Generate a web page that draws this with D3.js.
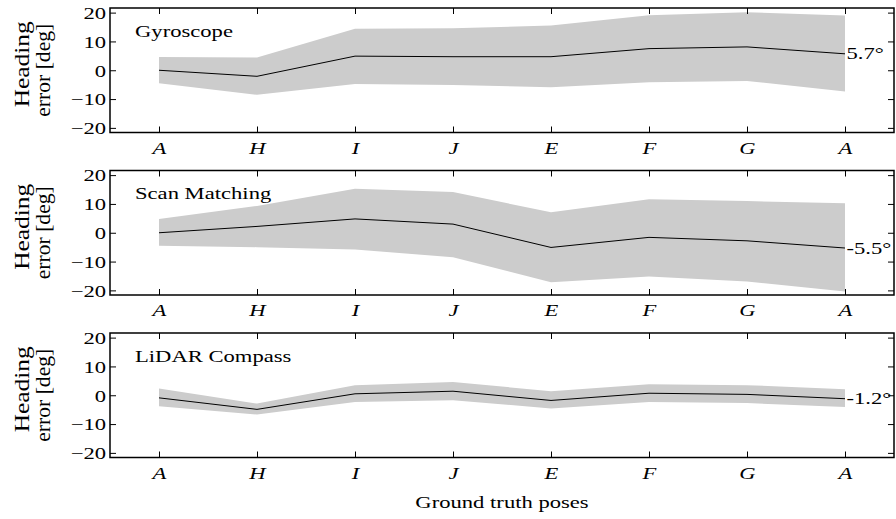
<!DOCTYPE html>
<html>
<head>
<meta charset="utf-8">
<script src="https://cdn.jsdelivr.net/npm/d3@7"></script>
</head>
<body style="margin:0; background:#fff">
<script>
var poses = ['A', 'H', 'I', 'J', 'E', 'F', 'G', 'A'];
var yTicks = [-20, -10, 0, 10, 20];

var gyroMean  = [0, -2.1, 4.9, 4.7, 4.7, 7.5, 8.1, 5.7];
var gyroUpper = [4.6, 4.4, 14.4, 14.6, 15.5, 19.1, 20.1, 19.0];
var gyroLower = [-4.5, -8.5, -4.8, -5.1, -5.9, -4.2, -3.7, -7.4];

var scanMean  = [0, 2.2, 4.8, 3.0, -5.1, -1.6, -2.8, -5.3];
var scanUpper = [4.8, 9.3, 15.3, 14.1, 7.1, 11.6, 11.0, 10.2];
var scanLower = [-4.5, -5.0, -5.8, -8.5, -17.2, -15.2, -16.9, -20.4];

var lidarMean  = [-0.9, -4.9, 0.5, 1.4, -1.8, 0.7, 0.3, -1.2];
var lidarUpper = [2.3, -2.9, 3.5, 4.6, 1.4, 3.8, 3.5, 2.1];
var lidarLower = [-3.8, -6.7, -2.3, -1.7, -4.6, -2.3, -2.7, -4.1];

var panelNames = ['Gyroscope', 'Scan Matching', 'LiDAR Compass'];
var finalLabels = ['5.7°', '-5.5°', '-1.2°'];

var panels = [
  {name: panelNames[0], mean: gyroMean, upper: gyroUpper, lower: gyroLower, end: finalLabels[0]},
  {name: panelNames[1], mean: scanMean, upper: scanUpper, lower: scanLower, end: finalLabels[1]},
  {name: panelNames[2], mean: lidarMean, upper: lidarUpper, lower: lidarLower, end: finalLabels[2]}
];

var width = 896, height = 519;
var left = 110, right = 894;
var panelTops = [8, 170.5, 333], panelH = 124.5;
var fontSize = '17px', stretch = 1.33;   // the original figure is stretched sideways

function serif(sel, size) {
  return sel.style('font-family', '"Liberation Serif"')
    .style('font-size', size || fontSize)
    .style('fill', '#000');
}

// horizontally stretched text, anchored at (x, y)
function label(parent, x, y, txt, anchor) {
  return serif(parent.append('text'))
    .attr('transform', 'translate(' + x + ',' + y + ') scale(' + stretch + ',1)')
    .style('text-anchor', anchor || 'start')
    .text(txt);
}

var svg = d3.select('body').append('svg')
    .attr('width', width)
    .attr('height', height)
    .style('font-family', '"Liberation Serif"');

var xScale = d3.scaleLinear().domain([-0.5, 7.5]).range([left, right]);

panels.forEach(function(p, k) {
  var top = panelTops[k];
  var yScale = d3.scaleLinear().domain([-21.6, 21.6]).range([top + panelH, top]);
  var g = svg.append('g');
  var idx = d3.range(poses.length);

  var area = d3.area()
      .x(function(i) { return xScale(i); })
      .y0(function(i) { return yScale(p.lower[i]); })
      .y1(function(i) { return yScale(p.upper[i]); });

  g.append('path')
      .datum(idx)
      .attr('d', area)
      .style('fill', '#cccccc')
      .style('stroke', 'none');

  var line = d3.line()
      .x(function(i) { return xScale(i); })
      .y(function(i) { return yScale(p.mean[i]); });

  g.append('path')
      .datum(idx)
      .attr('d', line)
      .style('fill', 'none')
      .style('stroke', '#000')
      .style('stroke-width', 1);

  // ticks on all four sides, pointing in
  var yAxisL = d3.axisLeft(yScale).tickValues(yTicks).tickSizeInner(-6).tickSizeOuter(0)
      .tickFormat(function(d) { return d < 0 ? '\u2212' + Math.abs(d) : d; });
  var yAxisR = d3.axisRight(yScale).tickValues(yTicks).tickSizeInner(-6).tickSizeOuter(0).tickFormat('');
  var xAxisB = d3.axisBottom(xScale).tickValues(idx).tickSizeInner(-6).tickSizeOuter(0)
      .tickFormat(function(i) { return poses[i]; });
  var xAxisT = d3.axisTop(xScale).tickValues(idx).tickSizeInner(-6).tickSizeOuter(0).tickFormat('');

  var gL = g.append('g').attr('transform', 'translate(' + left + ',0)').call(yAxisL);
  var gR = g.append('g').attr('transform', 'translate(' + right + ',0)').call(yAxisR);
  var gB = g.append('g').attr('transform', 'translate(0,' + (top + panelH) + ')').call(xAxisB);
  var gT = g.append('g').attr('transform', 'translate(0,' + top + ')').call(xAxisT);

  [gL, gR, gB, gT].forEach(function(a) {
    a.select('.domain').remove();
    a.selectAll('line').style('stroke', '#000').style('stroke-width', 1);
  });

  serif(gL.selectAll('text'))
      .attr('x', null).attr('dy', null)
      .attr('transform', 'translate(-4,5.8) scale(' + stretch + ',1)')
      .style('text-anchor', 'end');

  serif(gB.selectAll('text'))
      .attr('y', null).attr('dy', null)
      .attr('transform', 'translate(0,21) scale(' + stretch + ',1)')
      .style('font-style', 'italic')
      .style('text-anchor', 'middle');

  g.append('rect')
      .attr('x', left)
      .attr('y', top)
      .attr('width', right - left)
      .attr('height', panelH)
      .style('fill', 'none')
      .style('stroke', '#000')
      .style('stroke-width', 1.5);

  label(g, left + 25, top + 28.5, p.name);

  var last = poses.length - 1;
  label(g, xScale(last) + 1.5, yScale(p.mean[last]) + 5.5, p.end);

  // two-line rotated y label
  var cy = top + panelH / 2;
  var ylines = [
    {txt: 'Heading', x: 28.5, dy: -6, len: 86},
    {txt: 'error [deg]', x: 50, dy: 0, len: 93}
  ];
  ylines.forEach(function(l) {
    serif(g.append('text'), '22px')
        .attr('transform', 'translate(' + l.x + ',' + (cy + l.dy) + ') rotate(-90)')
        .attr('textLength', l.len)
        .attr('lengthAdjust', 'spacingAndGlyphs')
        .style('text-anchor', 'middle')
        .text(l.txt);
  });
});

label(svg, (left + right) / 2, 508, 'Ground truth poses', 'middle');
</script>
</body>
</html>
